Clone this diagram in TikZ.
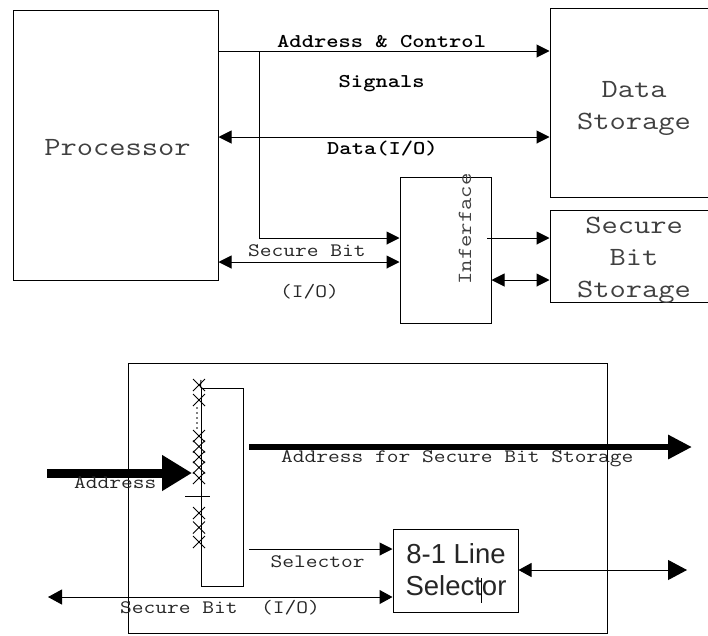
\documentclass[tikz,border=0pt]{standalone}
\usepackage{fontspec}
\setsansfont{Liberation Sans}
\usetikzlibrary{arrows.meta}
% typewriter text, widened to typewriter-office proportions
\newcommand{\wide}[1]{\scalebox{1.2}[1]{#1}}

\begin{document}
\begin{tikzpicture}[x=1pt,y=-1pt,
  box/.style={draw, line width=1pt, inner sep=0pt},
  wire/.style={line width=1pt},
  tip/.style={-{Triangle[length=13pt,width=13pt]}},
  both/.style={{Triangle[length=13pt,width=13pt]}-{Triangle[length=13pt,width=13pt]}},
  biglbl/.style={font=\fontsize{26.3}{32}\selectfont\ttfamily, text=black!75, inner sep=0pt, anchor=base},
  sig/.style={font=\fontsize{19.5}{24}\selectfont\ttfamily\bfseries, inner sep=0pt, anchor=base west},
  lbl/.style={font=\fontsize{19}{24}\selectfont\ttfamily, text=black!85, inner sep=0pt, anchor=base west},
  sans/.style={font=\fontsize{27.5}{32}\selectfont\sffamily, text=black!85, inner sep=0pt, anchor=base},
  cross/.style={line width=1pt},
]
\useasboundingbox (0,0) rectangle (708,635);
\fill[white] (0,0) rectangle (708,635);
\clip (0,0) rectangle (708,635);

% ---------- system overview ----------
\node[box, minimum width=205, minimum height=270] (proc) at (115.5,145) {};
\node[box, minimum width=166, minimum height=189] (ds) at (633,102.5) {};
\node[box, minimum width=166, minimum height=92] (sbs) at (633,256) {};
\node[box, minimum width=91, minimum height=146] (iface) at (445.5,250) {};

\node[biglbl] (tproc) at (117.5,155) {\wide{Processor}};
\node[biglbl] (tds1) at (634,97) {\wide{Data}};
\node[biglbl] (tds2) at (634,129) {\wide{Storage}};
\node[biglbl] (tsb1) at (634,233) {\wide{Secure}};
\node[biglbl] (tsb2) at (634,265) {\wide{Bit}};
\node[biglbl] (tsb3) at (634,297) {\wide{Storage}};
\node[font=\fontsize{20}{24}\selectfont\ttfamily, text=black!75, rotate=90, inner sep=0pt] (tif) at (465,229) {\wide{Inferface}};

% address & control bus, with branch to the interface
\coordinate (acy) at (0,51);
\draw[wire,tip] (proc.east |- acy) -- (ds.west |- acy);
\coordinate (br) at (259,51);
\coordinate (bry) at (0,238);
\draw[wire,tip] (br) |- (iface.west |- bry);
% data bus
\coordinate (dy) at (0,137);
\draw[wire,both] (proc.east |- dy) -- (ds.west |- dy);
% secure bit line
\coordinate (sy) at (0,262);
\draw[wire,both] (proc.east |- sy) -- (iface.west |- sy);
% interface to secure bit storage
\coordinate (ox) at (487,238);
\draw[wire,tip] (ox) -- (sbs.west |- ox);
\coordinate (ry) at (0,280);
\draw[wire,both] (iface.east |- ry) -- (sbs.west |- ry);

\node[sig] (lac) at (277,47) {\wide{Address \& Control}};
\node[sig] (lsg) at (338.5,87) {\wide{Signals}};
\node[sig] (ldt) at (327,154) {\wide{Data(I/O)}};
\node[lbl] (lsb) at (248,256) {\wide{Secure Bit}};
\node[lbl] (lio) at (280,297) {\wide{(I/O)}};

% ---------- interface detail ----------
\node[box, minimum width=479, minimum height=270] (frame) at (367.5,498) {};
\node[box, minimum width=42, minimum height=198] (reg) at (222,487) {};
\node[box, minimum width=125, minimum height=83] (sel) at (455.5,570.5) {};
\node[sans] (ts1) at (456,563) {8-1 Line};
\node[sans] (ts2) at (456,595) {Selector};
\draw[line width=0.8pt] (481,578) -- (481,603);

% address bit chain
\coordinate (ctop) at (201,380);
\draw[wire] (ctop) -- (reg.north west);
\foreach \y in {385,400,436,446.5,457,467.5,478,513,527.5,542}
  \draw[cross] (193,\y-6) -- (205,\y+6) (193,\y+6) -- (205,\y-6);
\foreach \y in {408,413,418,423,428}
  \fill (197,\y) circle (0.9pt);
\draw[wire] (185,496) -- (210,496);

% address in / address out
\coordinate (ain) at (47,473);
\coordinate (achain) at (192,473);
\draw[line width=9pt, -{Triangle[length=30pt,width=34pt]}] (ain) -- (achain);
\coordinate (aos) at (249,447);
\coordinate (aoe) at (692,447);
\draw[line width=6.5pt, -{Triangle[length=24pt,width=23pt]}] (aos) -- (aoe);

% selector and secure bit lines
\coordinate (sls) at (249,549);
\draw[wire,tip] (sls) -- (sel.west |- sls);
\coordinate (sbl) at (48,597);
\draw[wire,{Triangle[length=14pt,width=15pt]}-{Triangle[length=13pt,width=14pt]}] (sbl) -- (sel.west |- sbl);
\coordinate (sor) at (687,570);
\draw[wire,{Triangle[length=13pt,width=14pt]}-{Triangle[length=19pt,width=20pt]}] (sel.east |- sor) -- (sor);

\node[lbl] (lad) at (74,488) {\wide{Address}};
\node[lbl] (lao) at (281,462) {\wide{Address for Secure Bit Storage}};
\node[lbl] (lsl) at (270.5,567) {\wide{Selector}};
\node[lbl] (lsbio) at (120,613) {\wide{Secure Bit~~(I/O)}};
\end{tikzpicture}
\end{document}
